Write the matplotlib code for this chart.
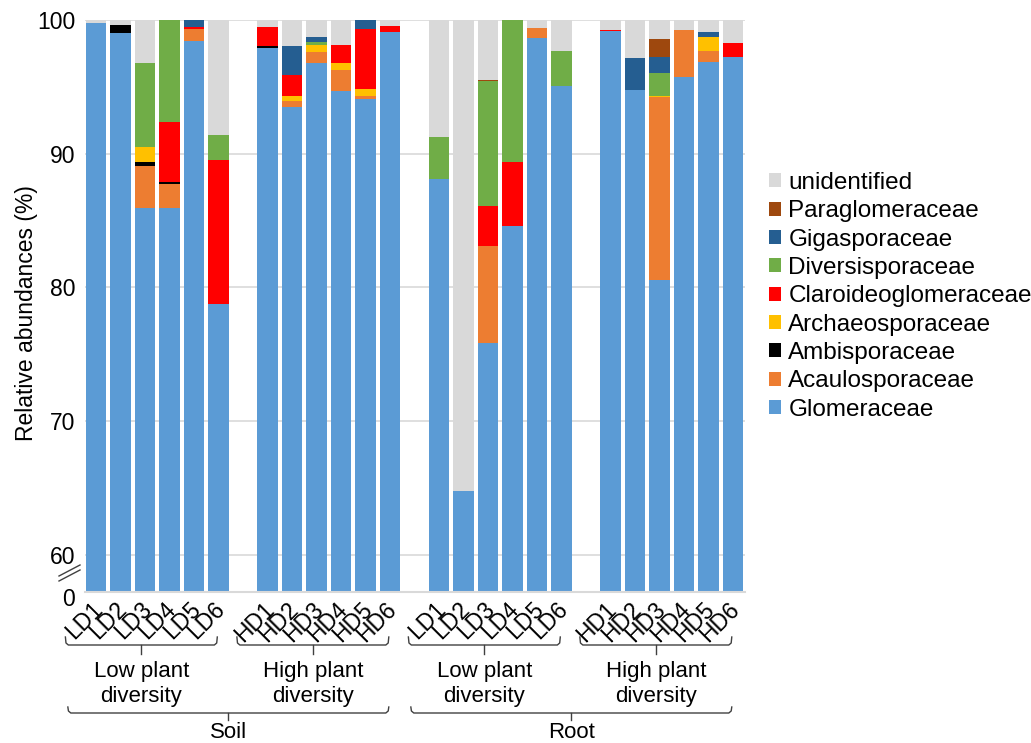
import numpy as np
import matplotlib
matplotlib.use("Agg")
import matplotlib.pyplot as plt
import matplotlib.transforms as mtransforms

plt.rcParams['font.family'] = ['Liberation Sans', 'DejaVu Sans']

# sample labels, soil then root, low diversity then high diversity
samples = ['LD1', 'LD2', 'LD3', 'LD4', 'LD5', 'LD6',
           'HD1', 'HD2', 'HD3', 'HD4', 'HD5', 'HD6',
           'LD1', 'LD2', 'LD3', 'LD4', 'LD5', 'LD6',
           'HD1', 'HD2', 'HD3', 'HD4', 'HD5', 'HD6']

families = ['Glomeraceae', 'Acaulosporaceae', 'Ambisporaceae', 'Archaeosporaceae',
            'Claroideoglomeraceae', 'Diversisporaceae', 'Gigasporaceae',
            'Paraglomeraceae', 'unidentified']
colors = ['#5b9bd5', '#ed7d31', '#000000', '#ffc000', '#ff0000',
          '#70ad47', '#255e91', '#9e480e', '#d9d9d9']

# relative abundance (%) per family, one value per sample
glomeraceae = [99.75, 99.05, 85.96, 85.96, 98.45, 78.8,
               97.93, 93.47, 96.76, 94.71, 94.07, 99.13,
               88.11, 64.77, 75.86, 84.62, 98.68, 95.09,
               99.18, 94.76, 80.58, 95.74, 96.83, 97.23]
acaulosporaceae = [0, 0, 3.14, 1.8, 0.85, 0,
                   0, 0.47, 0.82, 1.57, 0.27, 0,
                   0, 0, 7.26, 0, 0.75, 0,
                   0, 0, 13.64, 3.53, 0.85, 0]
ambisporaceae = [0, 0.58, 0.25, 0.14, 0, 0,
                 0.15, 0, 0, 0, 0, 0,
                 0, 0, 0, 0, 0, 0,
                 0, 0, 0, 0, 0, 0]
archaeosporaceae = [0, 0, 1.15, 0, 0, 0,
                    0, 0.35, 0.55, 0.52, 0.48, 0,
                    0, 0, 0, 0, 0, 0,
                    0, 0, 0.07, 0, 1.02, 0]
claroideoglomeraceae = [0, 0, 0, 4.5, 0.15, 10.7,
                        1.42, 1.62, 0, 1.3, 4.51, 0.42,
                        0, 0, 2.99, 4.78, 0, 0,
                        0.09, 0, 0, 0, 0, 1.07]
diversisporaceae = [0, 0, 6.3, 7.6, 0, 1.9,
                    0, 0, 0.22, 0.05, 0, 0,
                    3.14, 0, 9.33, 10.6, 0, 2.59,
                    0, 0, 1.77, 0, 0, 0]
gigasporaceae = [0, 0, 0, 0, 0.55, 0,
                 0, 2.17, 0.35, 0, 0.67, 0,
                 0, 0, 0, 0, 0, 0,
                 0, 2.37, 1.17, 0, 0.4, 0]
paraglomeraceae = [0, 0, 0, 0, 0, 0,
                   0, 0, 0, 0, 0, 0,
                   0, 0, 0.1, 0, 0, 0,
                   0, 0, 1.37, 0, 0, 0]
unidentified = [0.25, 0.37, 3.2, 0, 0, 8.6,
                0.5, 1.92, 1.3, 1.85, 0, 0.45,
                8.75, 35.23, 4.46, 0, 0.57, 2.32,
                0.73, 2.87, 1.4, 0.73, 0.9, 1.7]

series = [glomeraceae, acaulosporaceae, ambisporaceae, archaeosporaceae,
          claroideoglomeraceae, diversisporaceae, gigasporaceae,
          paraglomeraceae, unidentified]

group_names = ['Low plant\ndiversity', 'High plant\ndiversity',
               'Low plant\ndiversity', 'High plant\ndiversity']
compartments = ['Soil', 'Root']

# x positions: groups of 6 with one empty slot between groups
x = np.array([g * 7 + i for g in range(4) for i in range(6)], dtype=float)

W, H = 1031, 743
fig = plt.figure(figsize=(W / 100, H / 100), dpi=100)

def fx(px):
    return px / W

def fy(py):
    return 1 - py / H

left, right = 85, 745
ax_top = fig.add_axes([fx(left), fy(569), fx(right - left), fy(20) - fy(569)])
ax_bot = fig.add_axes([fx(left), fy(592), fx(right - left), fy(569) - fy(592)])

def draw_stack(ax):
    bottom = np.zeros(len(x))
    handles = []
    for vals, c, name in zip(series, colors, families):
        vals = np.array(vals, dtype=float)
        h = ax.bar(x, vals, width=0.82, bottom=bottom, color=c, label=name,
                   linewidth=0, zorder=2)
        handles.append(h)
        bottom = bottom + vals
    return handles

handles = draw_stack(ax_top)
draw_stack(ax_bot)

xlim = (-0.45, 26.49)
ax_top.set_xlim(*xlim)
ax_bot.set_xlim(*xlim)
ax_top.set_ylim(58.95, 100)
ax_bot.set_ylim(0, 1.72)

grid_c = '#d9d9d9'
for ax in (ax_top, ax_bot):
    for s in ax.spines.values():
        s.set_visible(False)
    ax.tick_params(length=0, labelsize=16.5, colors='black')

ax_top.set_yticks([60, 70, 80, 90, 100])
ax_top.yaxis.grid(True, color=grid_c, linewidth=1.2, zorder=0)
ax_top.set_axisbelow(True)
ax_top.set_xticks([])
ax_top.tick_params(axis='y', pad=7)

ax_bot.set_yticks([0])
ax_bot.tick_params(axis='y', pad=7)
ax_bot.axhline(0, color=grid_c, linewidth=1.5, zorder=3, clip_on=False)
zero_off = mtransforms.ScaledTranslation(0, -0.05, fig.dpi_scale_trans)
for lab in ax_bot.get_yticklabels():
    lab.set_transform(lab.get_transform() + zero_off)

ax_bot.set_xticks(x)
ax_bot.set_xticklabels(samples, rotation=45, ha='right', fontsize=16.5)
ax_bot.tick_params(axis='x', pad=4)
offset = mtransforms.ScaledTranslation(0.11, 0, fig.dpi_scale_trans)
for lab in ax_bot.get_xticklabels():
    lab.set_transform(lab.get_transform() + offset)

fig.text(fx(27), fy(313), 'Relative abundances (%)', rotation=90,
         ha='center', va='center', fontsize=16.5)

# axis break marks
for dy in (0, 5):
    fig.add_artist(plt.Line2D([fx(59), fx(80)], [fy(581 - dy), fy(570 - dy)],
                              color='#404040', linewidth=1))

# brackets under the axis
blend = mtransforms.blended_transform_factory(ax_bot.transData, fig.transFigure)
br_c = '#404040'

def bracket(x0, x1, yb, up, down):
    d = 0.12
    xs = [x0, x0 + d * 0.2, x0 + d, x1 - d, x1 - d * 0.2, x1]
    ys = [fy(yb - up), fy(yb - 2), fy(yb), fy(yb), fy(yb - 2), fy(yb - up)]
    ax_bot.plot(xs, ys, color=br_c, linewidth=1, transform=blend, clip_on=False)
    xc = (x0 + x1) / 2
    ax_bot.plot([xc, xc], [fy(yb), fy(yb + down)], color=br_c, linewidth=1,
                transform=blend, clip_on=False)
    return xc

for g in range(4):
    first, last = x[g * 6], x[g * 6 + 5]
    xc = bracket(first - 1.25, last - 0.05, 645, 8, 9)
    fig.text(0, fy(684), group_names[g], ha='center', va='center', fontsize=16,
             linespacing=1.2, transform=blend).set_x(xc)

for c in range(2):
    first, last = x[c * 12], x[c * 12 + 11]
    xc = bracket(first - 1.15, last - 0.05, 713, 6, 7)
    fig.text(0, fy(732), compartments[c], ha='center', va='center', fontsize=16,
             transform=blend).set_x(xc)

leg = fig.legend(handles[::-1], families[::-1], loc='upper left',
                 bbox_to_anchor=(fx(769), fy(172)), frameon=False, fontsize=17.5,
                 handlelength=0.5, handleheight=0.5, handletextpad=0.3,
                 labelspacing=0.26, borderaxespad=0, borderpad=0)

fig.savefig('out.png', dpi=100)
